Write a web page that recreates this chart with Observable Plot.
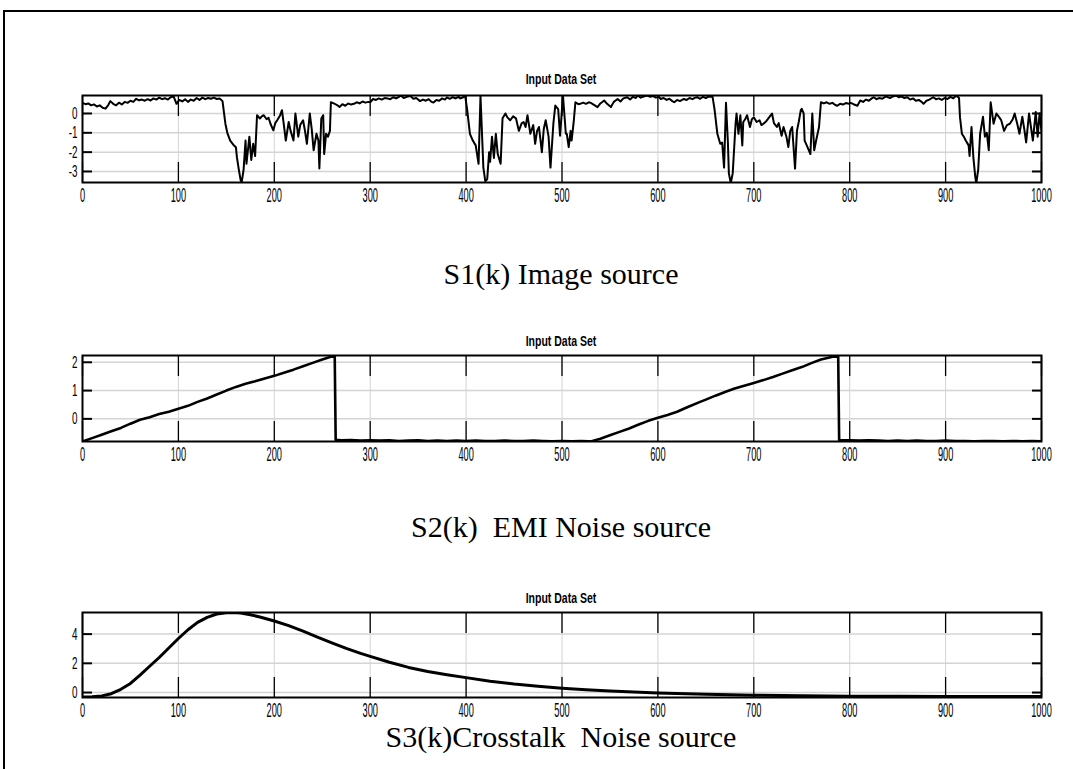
<!DOCTYPE html>
<html>
<head>
<meta charset="utf-8">
<script src="https://cdn.jsdelivr.net/npm/d3@7"></script>
<script src="https://cdn.jsdelivr.net/npm/@observablehq/plot@0.6"></script>
<style>
  html, body { margin: 0; padding: 0; background: #fff; overflow: hidden; }
  #page { position: relative; width: 1073px; height: 769px; overflow: hidden; background: #fff; }
  #border { position: absolute; left: 3px; top: 10px; width: 1200px; height: 900px; border-top: 2px solid #000; border-left: 2px solid #000; }
  .panel { position: absolute; left: 0; }
  .ptitle { position: absolute; left: 561px; font-family: "Liberation Sans", Arial, sans-serif; font-weight: bold; font-size: 14px; color: #000; transform: translateX(-50%) scaleX(0.75); white-space: nowrap; }
  .caption { position: absolute; left: 561px; font-family: "Liberation Serif", "Times New Roman", serif; font-size: 30px; color: #000; transform: translateX(-50%); white-space: pre; line-height: 1; }
</style>
</head>
<body>
<div id="page">
  <div id="border"></div>
</div>
<script>
// ---------- data ----------
const xTicks = [0, 100, 200, 300, 400, 500, 600, 700, 800, 900, 1000];
const titles = ["Input Data Set", "Input Data Set", "Input Data Set"];
const captions = ["S1(k) Image source", "S2(k)  EMI Noise source", "S3(k)Crosstalk  Noise source"];

// S1(k) image source
const s1K = [0,3,6,9,12,15,18,21,24,27,29,32,35,38,41,44,47,50,53,56,59,62,65,68,71,74,77,80,83,86,89,92,95,98,101,104,107,110,113,116,119,122,125,128,131,134,137,140,143,146,
149,151,154,158,160,161,163,165,166,168,170,171,174,176,178,180,182,185,187,189,192,194,196,199,201,203,206,208,210,212,215,217,220,222,225,227,230,232,234,237,239,241,244,246,247,249,251,252,254,256,258,259,
262,265,268,271,274,277,280,283,286,289,292,295,298,300,303,306,309,312,315,318,321,324,327,330,332,335,338,342,345,348,352,355,358,361,364,366,369,372,375,378,380,383,386,389,392,394,397,399,
401,404,407,410,413,415,418,420,422,424,425,427,429,431,433,436,438,441,443,446,449,452,455,458,460,462,464,467,470,472,474,476,479,481,483,486,488,491,493,496,498,501,504,505,507,509,510,512,
514,517,519,522,525,528,530,533,537,540,544,547,551,554,558,561,564,568,571,574,577,579,582,585,589,592,595,598,601,603,606,609,612,615,617,620,623,627,630,633,636,639,641,644,647,650,653,657,
659,662,665,667,669,671,673,674,676,678,681,682,684,686,688,689,691,693,696,698,700,703,706,708,710,713,716,719,721,724,726,729,731,734,736,738,740,743,745,747,749,750,752,753,756,759,761,763,765,768,
770,773,776,779,782,785,787,790,793,796,799,801,804,808,811,814,817,820,823,825,828,831,834,837,839,842,845,848,851,854,857,860,863,866,869,872,875,877,880,883,887,890,893,896,899,902,905,908,910,912,914,
915,917,919,921,924,925,927,929,931,932,934,936,939,941,943,945,947,950,953,956,958,961,964,967,970,972,975,977,980,982,984,987,989,991,994,996,998,1000];
const s1V = [0.55,0.48,0.52,0.42,0.47,0.36,0.42,0.3,0.25,0.45,0.64,0.5,0.42,0.56,0.47,0.6,0.55,0.66,0.6,0.76,0.68,0.72,0.66,0.74,0.67,0.78,0.72,0.82,0.74,0.79,0.72,0.84,0.88,0.5,0.7,0.62,0.74,0.6,0.72,0.66,0.8,0.7,0.82,0.74,0.8,0.76,0.82,0.75,0.78,0.64,
-0.53,-1.0,-1.4,-1.66,-1.75,-2.26,-2.9,-3.47,-3.55,-2.9,-1.4,-2.6,-1.2,-2.4,-1.57,-2.2,-0.09,-0.26,-0.15,-0.09,-0.3,-0.22,-0.53,-0.87,-0.5,-0.35,-0.1,0.17,-0.6,-1.4,-0.44,-0.9,-1.4,0,-1.2,-0.6,-0.35,-0.9,-1.57,0,-0.8,-1.9,-1.05,-1.4,-2.85,-0.26,-0.09,-2.1,-1.05,-1.2,-0.9,0.58,
0.52,0.45,0.34,0.48,0.4,0.52,0.46,0.5,0.58,0.52,0.62,0.56,0.6,0.58,0.75,0.7,0.78,0.72,0.8,0.78,0.74,0.84,0.78,0.86,0.93,0.8,0.86,0.9,0.76,0.8,0.64,0.72,0.66,0.74,0.6,0.57,0.7,0.66,0.78,0.72,0.83,0.76,0.84,0.78,0.86,0.78,0.84,0.92,
0.24,-1.05,-1.4,-1.65,-2.6,0.92,-2.8,-3.5,-3.4,-2.0,-2.5,-1.2,-2.3,-1.05,-2.1,-2.6,-0.25,0,-0.2,-0.35,-0.15,-0.25,-0.9,-0.5,-0.44,-0.7,-0.09,-1.05,-0.6,-1.57,-0.9,-0.7,-2.0,-0.8,-0.35,-1.2,-2.8,-0.53,0.41,0.23,-1.15,0.93,-1.05,-1.05,-1.74,-0.9,-1.4,-0.53,
0.58,0.48,0.5,0.56,0.5,0.58,0.55,0.46,0.33,0.52,0.67,0.5,0.33,0.6,0.75,0.62,0.78,0.84,0.72,0.86,0.8,0.93,0.82,0.88,0.93,0.86,0.9,0.82,0.86,0.75,0.8,0.7,0.76,0.64,0.58,0.7,0.64,0.75,0.7,0.8,0.74,0.82,0.84,0.76,0.86,0.8,0.88,0.86,
0.24,-1.05,-1.57,-1.5,-2.8,0.55,-1.5,-3.1,-3.6,-3.1,-0.53,0,-1.05,-0.09,-1.65,-0.44,-0.3,-0.09,-0.7,-0.3,-0.2,-0.44,-0.35,-0.6,-0.53,-0.4,-0.2,0,-0.5,-0.7,-0.5,-1.15,-0.7,-1.2,-1.74,-0.9,-0.7,-2.85,-0.9,-0.4,0.17,0.24,0,-1.4,-1.74,-2.1,0,-1.9,-1.4,-0.7,
0.58,0.52,0.58,0.5,0.55,0.44,0.4,0.5,0.46,0.54,0.5,0.55,0.48,0.4,0.67,0.6,0.72,0.66,0.78,0.84,0.74,0.8,0.76,0.86,0.86,0.8,0.88,0.93,0.84,0.88,0.8,0.84,0.72,0.78,0.66,0.7,0.6,0.5,0.66,0.72,0.84,0.74,0.78,0.7,0.8,0.75,0.86,0.78,0.88,0.9,0.8,
-0.19,-1.05,-1.2,-1.4,-1.65,-2.2,-0.7,-2.3,-3.3,-3.6,-2.9,-1.05,-0.17,-1.2,-1.0,-1.9,0.58,-0.53,0,-0.2,-0.35,-0.9,-0.6,-0.53,-0.3,0,-0.6,-1.05,-0.17,-0.8,-1.5,0,-0.7,-1.4,0.08,-1.2,0,-0.9];
const s1Ticks = [-3, -2, -1, 0];

// S2(k) EMI noise source
const s2K = [0,10,20,30,40,50,60,70,80,90,100,110,120,130,140,150,160,170,180,190,200,210,220,230,240,250,263,264,270,280,290,300,310,320,330,340,350,360,370,380,390,400,410,420,430,440,450,460,470,480,490,500,510,520,528,
530,540,550,560,570,580,590,600,610,620,630,644,650,660,670,680,690,700,710,720,730,740,750,760,770,780,788,789,800,810,820,830,840,850,860,870,880,890,900,910,920,930,940,950,960,970,980,990,1000];
const s2V = [-0.8,-0.68,-0.56,-0.44,-0.32,-0.17,-0.03,0.06,0.17,0.25,0.36,0.46,0.6,0.72,0.86,1.0,1.13,1.24,1.33,1.43,1.52,1.63,1.74,1.86,1.98,2.1,2.24,-0.74,-0.76,-0.75,-0.77,-0.76,-0.77,-0.76,-0.78,-0.77,-0.76,-0.78,-0.77,-0.78,-0.77,-0.78,-0.77,-0.78,-0.78,-0.77,-0.78,-0.78,-0.77,-0.78,-0.79,-0.78,-0.79,-0.78,-0.79,
-0.8,-0.7,-0.58,-0.46,-0.34,-0.2,-0.07,0.04,0.14,0.25,0.4,0.6,0.68,0.82,0.95,1.07,1.17,1.27,1.37,1.48,1.6,1.72,1.83,1.97,2.1,2.18,2.24,-0.75,-0.76,-0.77,-0.76,-0.77,-0.78,-0.77,-0.78,-0.77,-0.78,-0.78,-0.77,-0.78,-0.78,-0.79,-0.78,-0.78,-0.79,-0.78,-0.79,-0.78,-0.79];
const s2Ticks = [0, 1, 2];

// S3(k) crosstalk noise source
const s3K = [0,10,20,30,40,50,60,70,80,90,100,110,120,130,140,150,157,165,175,185,200,215,230,245,260,275,290,300,320,340,360,380,400,425,450,475,500,525,550,575,600,650,700,750,800,850,900,950,1000];
const s3V = [-0.3,-0.29,-0.23,-0.08,0.22,0.62,1.2,1.8,2.4,3.05,3.7,4.3,4.8,5.15,5.38,5.47,5.48,5.44,5.33,5.17,4.9,4.58,4.2,3.8,3.4,3.02,2.68,2.48,2.07,1.72,1.44,1.22,1.02,0.78,0.58,0.43,0.3,0.19,0.1,0.03,-0.03,-0.12,-0.18,-0.22,-0.25,-0.26,-0.27,-0.28,-0.28];
const s3Ticks = [0, 2, 4];

// ---------- drawing ----------
const page = document.getElementById("page");
const FONT = '"Liberation Sans", Arial, sans-serif';

function squeeze(svg, selector, sx, size) {
  svg.querySelectorAll(selector).forEach(t => {
    let tr = t.getAttribute("transform");
    if (!tr) {
      const x = t.getAttribute("x") || 0, y = t.getAttribute("y") || 0;
      t.removeAttribute("x"); t.removeAttribute("y");
      tr = `translate(${x},${y})`;
    }
    t.setAttribute("transform", tr + ` scale(${sx},1)`);
    t.setAttribute("font-size", size);
    t.style.fontSize = size + "px";
  });
}

function panel(cfg) {
  const data = cfg.k.map((k, i) => ({k, v: cfg.v[i]}));
  const mt = 20, mb = 30;
  const svg = Plot.plot({
    width: 1073,
    height: mt + cfg.frameH + mb,
    marginLeft: 82, marginRight: 32, marginTop: mt, marginBottom: mb,
    x: {domain: [0, 1000], label: null},
    y: {domain: cfg.yDomain, label: null},
    style: {fontFamily: FONT, fontSize: "18px", background: "transparent", color: "#000", overflow: "visible"},
    marks: [
      Plot.gridX(xTicks, {stroke: "#d4d4d4", strokeOpacity: 1, strokeWidth: 1}),
      Plot.gridY(cfg.yTicks, {stroke: "#d4d4d4", strokeOpacity: 1, strokeWidth: 1.5}),
      Plot.axisX(xTicks, {anchor: "bottom", tickSize: -20, tickFormat: () => "", label: null, strokeWidth: 1.3}),
      Plot.axisX(xTicks, {anchor: "top", tickSize: -20, tickFormat: () => "", label: null, strokeWidth: 1.3}),
      Plot.axisY(cfg.yTicks, {anchor: "left", tickSize: -10, tickFormat: () => "", label: null, strokeWidth: 2}),
      Plot.axisY(cfg.yTicks, {anchor: "right", tickSize: -10, tickFormat: () => "", label: null, strokeWidth: 2}),
      Plot.line(data, {x: "k", y: "v", stroke: "#000", strokeWidth: cfg.sw, clip: true}),
      Plot.axisX(xTicks, {anchor: "bottom", tickSize: 0, tickPadding: 5, label: null, tickFormat: d => String(d)}),
      Plot.axisY(cfg.yTicks, {anchor: "left", tickSize: 0, tickPadding: 5, label: null, tickFormat: d => String(d)}),
      Plot.frame({stroke: "#000", strokeWidth: 2})
    ]
  });
  svg.classList.add("panel");
  svg.style.top = (cfg.frameTop - mt) + "px";
  svg.style.position = "absolute";
  svg.style.left = "0px";
  squeeze(svg, 'g[aria-label="x-axis tick label"] text', 0.44, 21);
  squeeze(svg, 'g[aria-label="y-axis tick label"] text', 0.58, 17);
  page.appendChild(svg);

  const t = document.createElement("div");
  t.className = "ptitle";
  t.textContent = cfg.title;
  t.style.top = cfg.titleTop + "px";
  page.appendChild(t);

  const c = document.createElement("div");
  c.className = "caption";
  c.textContent = cfg.caption;
  c.style.top = cfg.captionTop + "px";
  page.appendChild(c);
}

panel({k: s1K, v: s1V, yDomain: [-3.57, 0.93], yTicks: s1Ticks, frameTop: 95, frameH: 87, sw: 2,
       title: titles[0], titleTop: 71, caption: captions[0], captionTop: 259});
panel({k: s2K, v: s2V, yDomain: [-0.8, 2.24], yTicks: s2Ticks, frameTop: 355, frameH: 86, sw: 2.6,
       title: titles[1], titleTop: 333, caption: captions[1], captionTop: 512});
panel({k: s3K, v: s3V, yDomain: [-0.34, 5.48], yTicks: s3Ticks, frameTop: 612, frameH: 85, sw: 3,
       title: titles[2], titleTop: 590, caption: captions[2], captionTop: 722});
</script>
</body>
</html>
